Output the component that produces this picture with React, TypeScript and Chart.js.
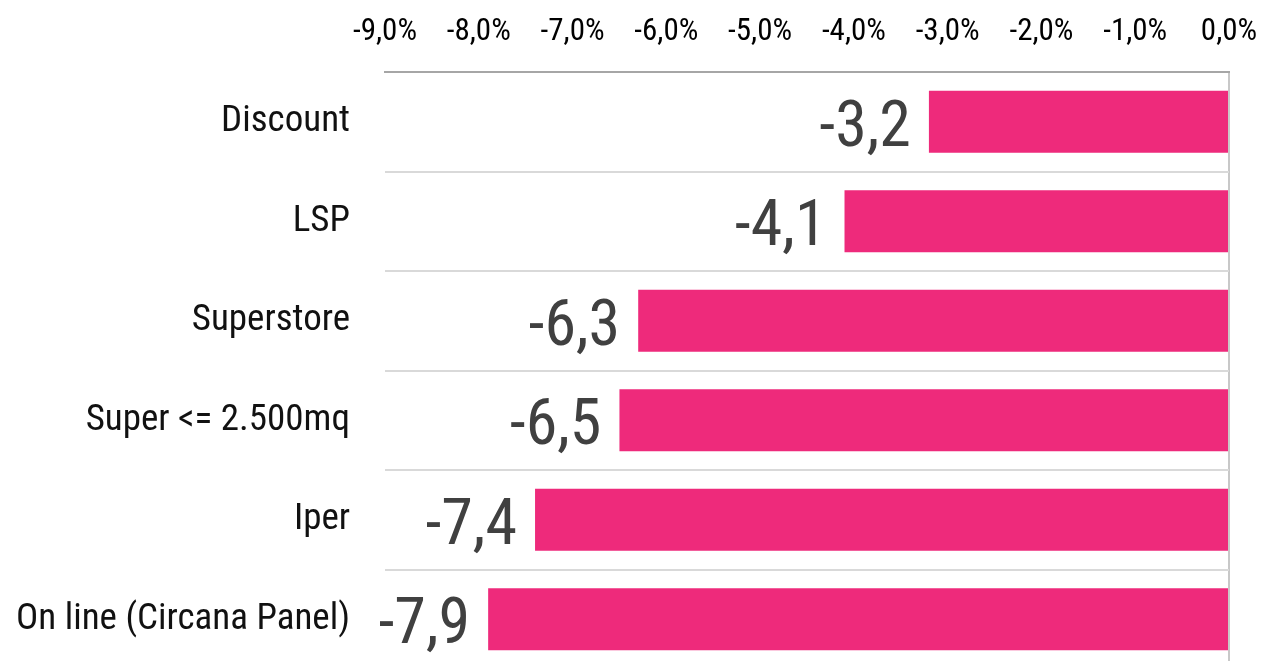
import React, { useEffect, useRef } from "react";
import { Chart, registerables } from "chart.js";

Chart.register(...registerables);

const categories = ["Discount", "LSP", "Superstore", "Super <= 2.500mq", "Iper", "On line (Circana Panel)"];
const values = [-3.2, -4.1, -6.3, -6.5, -7.4, -7.9];
const axisMin = -9;
const axisMax = 0;

const FONT = "'Roboto Condensed', Roboto, sans-serif";

const dataLabels = {
  id: "dataLabels",
  afterDatasetsDraw(chart: any) {
    const ctx = chart.ctx;
    const meta = chart.getDatasetMeta(0);
    ctx.save();
    ctx.font = `64px ${FONT}`;
    ctx.fillStyle = "#404040";
    ctx.textAlign = "right";
    ctx.textBaseline = "alphabetic";
    meta.data.forEach((el: any, i: number) => {
      const txt = values[i].toFixed(1).replace(".", ",");
      ctx.fillText(txt, el.x - 18, el.y + 24);
    });
    ctx.restore();
  },
};

export default function App() {
  const ref = useRef<HTMLCanvasElement>(null);
  useEffect(() => {
    if (!ref.current) return;
    const chart = new Chart(ref.current, {
      type: "bar",
      data: {
        labels: categories,
        datasets: [
          {
            data: values,
            backgroundColor: "#EE2A7B",
            borderWidth: 0,
            barPercentage: 0.624,
            categoryPercentage: 1,
          },
        ],
      },
      options: {
        indexAxis: "y",
        responsive: false,
        animation: false,
        layout: { padding: { left: 0, right: 34, top: 0, bottom: 0 } },
        plugins: { legend: { display: false }, tooltip: { enabled: false } },
        scales: {
          x: {
            position: "top",
            min: axisMin,
            max: axisMax,
            ticks: {
              stepSize: 1,
              color: "#000",
              padding: 21,
              font: { family: FONT, size: 31 },
              callback: (v: any) => Number(v).toFixed(1).replace(".", ",").replace("-0,0", "0,0") + "%",
            },
            grid: {
              drawTicks: false,
              lineWidth: 2,
              color: (c: any) => (c.tick && c.tick.value === 0 ? "#c8c8c8" : "rgba(0,0,0,0)"),
            },
            border: { display: true, color: "#a6a6a6", width: 2 },
            afterFit: (s: any) => {
              s.height = 72;
              s.paddingLeft = 0;
              s.paddingRight = 0;
            },
          },
          y: {
            ticks: {
              color: "#111",
              padding: 35,
              font: { family: FONT, size: 37 },
            },
            grid: {
              drawTicks: false,
              lineWidth: 2,
              color: (c: any) => (c.index === 0 ? "rgba(0,0,0,0)" : "#d9d9d9"),
            },
            border: { display: false },
            afterFit: (s: any) => {
              s.width = 385;
              s.paddingTop = 0;
              s.paddingBottom = 0;
            },
          },
        },
      },
      plugins: [dataLabels],
    });
    return () => chart.destroy();
  }, []);
  return (
    <div style={{ position: "absolute", left: 0, top: 0, width: 1263, height: 661, overflow: "hidden", background: "#fff" }}>
      <canvas ref={ref} width={1263} height={669} style={{ display: "block" }} />
    </div>
  );
}
